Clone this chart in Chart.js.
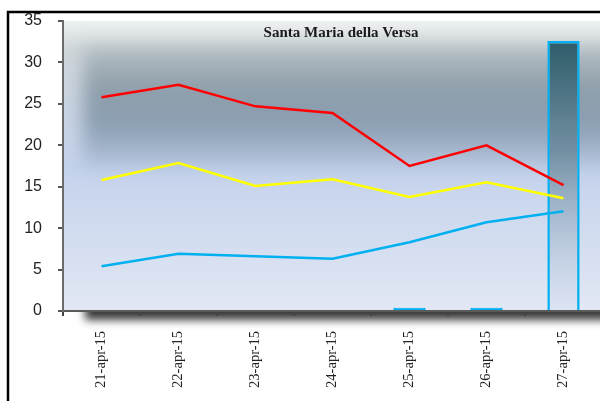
<!DOCTYPE html>
<html>
<head>
<meta charset="utf-8">
<script src="https://cdn.jsdelivr.net/npm/chart.js@4/dist/chart.umd.min.js"></script>
<style>
  html, body { margin: 0; padding: 0; background: #fff; overflow: hidden; }
  #wrap { position: relative; width: 612px; height: 401px; }
</style>
</head>
<body>
<div id="wrap"><canvas id="versaChart"></canvas></div>
<script>
const labels = ['21-apr-15', '22-apr-15', '23-apr-15', '24-apr-15', '25-apr-15', '26-apr-15', '27-apr-15'];
const redValues = [25.8, 27.3, 24.7, 23.9, 17.5, 20.0, 15.2];
const yellowValues = [15.8, 17.85, 15.1, 15.9, 13.75, 15.55, 13.6];
const blueValues = [5.4, 6.9, 6.6, 6.3, 8.3, 10.7, 12.05];
const barValues = [null, null, null, null, 0.4, 0.4, 32.6];
const yTicks = [0, 5, 10, 15, 20, 25, 30, 35];
const titleText = 'Santa Maria della Versa';

// frame, axis shadow and plot backdrop
const backdrop = {
    id: 'backdrop',
    beforeDraw(chart) {
        const { ctx, chartArea: a } = chart;
        ctx.save();
        ctx.strokeStyle = '#000';
        ctx.lineWidth = 2.5;
        ctx.strokeRect(8, 12, chart.width, chart.height);

        // shadow under the x axis
        ctx.save();
        ctx.beginPath();
        ctx.rect(a.left, a.bottom, chart.width, 40);
        ctx.clip();
        ctx.filter = 'blur(4px)';
        ctx.fillStyle = '#3a3a3a';
        ctx.fillRect(a.left + 22, a.bottom - 20, a.right, 29);
        ctx.restore();

        // plot area
        ctx.save();
        ctx.beginPath();
        ctx.rect(a.left, a.top, a.right - a.left, a.bottom - a.top);
        ctx.clip();
        const h = a.bottom - a.top;
        const g = ctx.createLinearGradient(0, a.top, 0, a.bottom);
        g.addColorStop(0, '#eef1f1');
        g.addColorStop(0.1, '#d0d7da');
        g.addColorStop(0.5, '#c4d2ec');
        g.addColorStop(1, '#e2e8f4');
        ctx.fillStyle = g;
        ctx.fillRect(a.left, a.top, a.right - a.left, h);

        ctx.filter = 'blur(9px)';
        const top = a.top + 26, bot = a.top + 145;
        const d = ctx.createLinearGradient(0, top, 0, bot);
        d.addColorStop(0, '#b4bec3');
        d.addColorStop(0.35, '#8e9eaa');
        d.addColorStop(0.65, '#8b9eb2');
        d.addColorStop(1, '#b3c3dc');
        ctx.fillStyle = d;
        ctx.fillRect(a.left + 20, top, a.right - a.left + 20, bot - top);
        ctx.restore();

        // title
        ctx.fillStyle = '#1a1a1a';
        ctx.font = 'bold 15px "Liberation Serif", serif';
        ctx.textAlign = 'center';
        ctx.textBaseline = 'middle';
        ctx.fillText(titleText, 341, 33);
        ctx.restore();
    }
};

const ctx = document.getElementById('versaChart').getContext('2d');

function barFill(c) {
    const a = c.chart.chartArea;
    if (!a) return '#5a7f92';
    if (c.raw !== null && c.raw < 1) return '#00b0f0';
    const g = c.chart.ctx.createLinearGradient(0, a.top, 0, a.bottom);
    g.addColorStop(0, '#21535f');
    g.addColorStop(0.45, '#7390a3');
    g.addColorStop(1, 'rgba(200,212,236,0.2)');
    return g;
}

new Chart(ctx, {
    type: 'bar',
    data: {
        labels: labels,
        datasets: [
            {
                type: 'line',
                label: 'red',
                data: redValues,
                borderColor: '#ff0000',
                borderWidth: 2.5,
                pointRadius: 0,
                tension: 0,
                order: 1
            },
            {
                type: 'line',
                label: 'yellow',
                data: yellowValues,
                borderColor: '#ffff00',
                borderWidth: 2.5,
                pointRadius: 0,
                tension: 0,
                order: 2
            },
            {
                type: 'line',
                label: 'blue',
                data: blueValues,
                borderColor: '#00b0f0',
                borderWidth: 2.5,
                pointRadius: 0,
                tension: 0,
                order: 3
            },
            {
                label: 'bar',
                data: barValues,
                backgroundColor: barFill,
                borderColor: '#00b0f0',
                borderWidth: 2.5,
                categoryPercentage: 1,
                barPercentage: 0.42,
                order: 4
            }
        ]
    },
    options: {
        responsive: true,
        maintainAspectRatio: false,
        animation: false,
        layout: { padding: { top: 21, right: 10, bottom: 0, left: 0 } },
        plugins: {
            legend: { display: false },
            tooltip: { enabled: false }
        },
        scales: {
            x: {
                afterFit: s => { s.height = 90; },
                grid: { drawOnChartArea: false, drawTicks: true, tickLength: 5, tickColor: '#444', lineWidth: 2 },
                border: { color: '#5a5a5a', width: 2 },
                ticks: {
                    maxRotation: 90,
                    minRotation: 90,
                    padding: 15,
                    color: '#222',
                    font: { family: '"Liberation Serif", serif', size: 14.5 }
                }
            },
            y: {
                min: 0,
                max: 35,
                afterFit: s => { s.width = 63; s.paddingTop = 0; s.paddingBottom = 0; },
                afterBuildTicks: s => { s.ticks = yTicks.map(v => ({ value: v })); },
                grid: { drawOnChartArea: false, drawTicks: true, tickLength: 5, tickColor: '#555', lineWidth: 2 },
                border: { color: '#6b6b6b', width: 2 },
                ticks: {
                    padding: 16,
                    color: '#222',
                    font: { family: '"Liberation Sans", Arial, sans-serif', size: 16 }
                }
            }
        }
    },
    plugins: [backdrop]
});
</script>
</body>
</html>
